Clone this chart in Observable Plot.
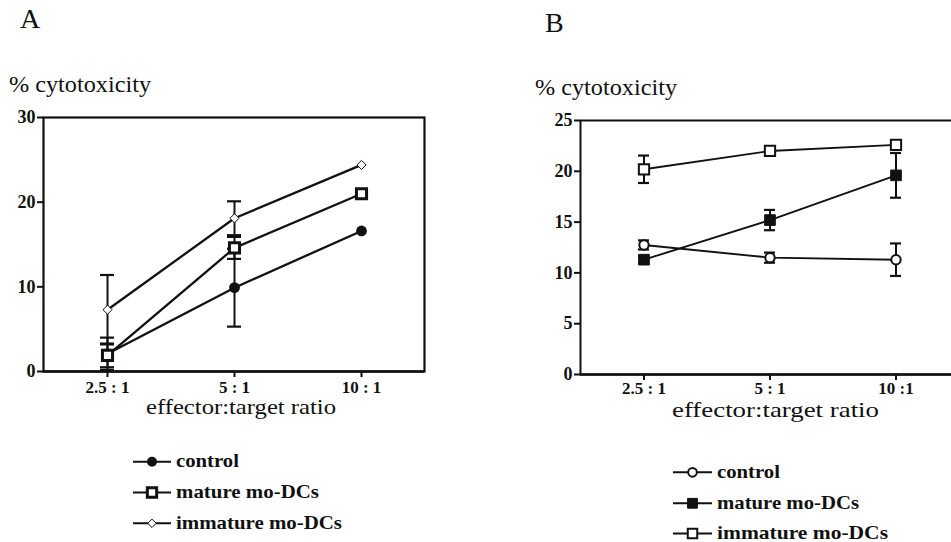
<!DOCTYPE html>
<html><head><meta charset="utf-8">
<script src="https://cdn.jsdelivr.net/npm/d3@7"></script>
<script src="https://cdn.jsdelivr.net/npm/@observablehq/plot@0.6"></script>
<style>
html,body{margin:0;padding:0;background:#fff;}
#wrap{position:relative;width:951px;height:542px;overflow:hidden;background:#fff;}
#wrap > svg, #wrap > figure{position:absolute;margin:0;}
#wrap svg, #wrap svg text{font-family:"Liberation Serif","Times New Roman","DejaVu Serif",serif !important;}
#wrap g[aria-label="x-axis tick label"] text{font-size:17px !important;font-weight:bold !important;fill:#111;}
#wrap g[aria-label="y-axis tick label"] text{font-size:18px !important;font-weight:bold !important;fill:#111;}
</style></head><body><div id="wrap"></div>
<script>
// ---- data ----
const ratiosA = ["2.5 : 1", "5 : 1", "10 : 1"];
const ratiosB = ["2.5 : 1", "5 : 1", "10 :1"];
const seriesNames = ["control", "mature mo-DCs", "immature mo-DCs"];
const yTicksA = [0, 10, 20, 30];
const yTicksB = [0, 5, 10, 15, 20, 25];

const controlA = [2.1, 9.9, 16.6];
const controlErrA = [1.9, 4.6, 0];
const matureA = [1.9, 14.6, 21.0];
const matureErrA = [1.4, 1.3, 0];
const immatureA = [7.3, 18.1, 24.4];
const immatureErrA = [4.1, 2.0, 0];

const controlB = [12.75, 11.5, 11.3];
const controlErrB = [0.45, 0.5, 1.6];
const matureB = [11.3, 15.2, 19.6];
const matureErrB = [0.3, 1.0, 2.2];
const immatureB = [20.2, 22.0, 22.6];
const immatureErrB = [1.35, 0.3, 0.4];

const FONT = "Liberation Serif, Times New Roman, DejaVu Serif, serif";

function buildRows(ratios, vals, errs) {
  const rows = [];
  seriesNames.forEach((s, si) => {
    ratios.forEach((r, i) => rows.push({ratio: r, series: s, value: vals[si][i], err: errs[si][i]}));
  });
  return rows;
}
const rowsA = buildRows(ratiosA, [controlA, matureA, immatureA], [controlErrA, matureErrA, immatureErrA]);
const rowsB = buildRows(ratiosB, [controlB, matureB, immatureB], [controlErrB, matureErrB, immatureErrB]);

const symA = {
  "control": {symbol: "circle", r: 5.4, fill: "#111", stroke: "none", strokeWidth: 0},
  "mature mo-DCs": {symbol: "square", r: 5.7, fill: "white", stroke: "#111", strokeWidth: 3},
  "immature mo-DCs": {symbol: "diamond2", r: 4.1, fill: "white", stroke: "#111", strokeWidth: 1}
};
const symB = {
  "control": {symbol: "circle", r: 4.7, fill: "white", stroke: "#111", strokeWidth: 2},
  "mature mo-DCs": {symbol: "square", r: 6.0, fill: "#111", stroke: "#111", strokeWidth: 1},
  "immature mo-DCs": {symbol: "square", r: 5.8, fill: "white", stroke: "#111", strokeWidth: 2}
};

function panel(rows, ratios, yMax, yTicks, syms, opts) {
  const errRows = rows.filter(d => d.err > 0);
  const dotMarks = seriesNames.map(s => Plot.dot(rows.filter(d => d.series === s), {
    x: "ratio", y: "value", ...syms[s]
  }));
  // band scale: bandwidth = error-bar cap width, band centers one step apart with half-step outer margin
  const step = (opts.width - opts.ml - opts.mr) / ratios.length;
  const pi = 1 - opts.cap / step;
  return Plot.plot({
    width: opts.width, height: opts.height,
    marginLeft: opts.ml, marginRight: opts.mr, marginTop: opts.mt, marginBottom: opts.mb,
    style: {fontFamily: FONT, fontSize: "18px", color: "#111", background: "transparent", overflow: "visible"},
    x: {type: "band", domain: ratios, paddingInner: pi, paddingOuter: pi / 2, align: 0.5},
    y: {domain: [0, yMax]},
    marks: [
      Plot.frame({stroke: "#111", strokeWidth: opts.frameW}),
      Plot.ruleY([0], {stroke: "#111", strokeWidth: 2.6}),
      Plot.axisY({ticks: yTicks, tickSize: 6, tickPadding: 2, fontWeight: "bold", fontSize: 18, strokeWidth: 2, label: null}),
      Plot.axisX({tickSize: 6, tickPadding: opts.xPad, fontWeight: "bold", fontSize: 17, strokeWidth: 2, label: null}),
      Plot.line(rows, {x: "ratio", y: "value", z: "series", stroke: "#111", strokeWidth: opts.lineW}),
      Plot.ruleX(errRows, {x: "ratio", y1: d => d.value - d.err, y2: d => d.value + d.err, stroke: "#111", strokeWidth: 2}),
      Plot.tickY(errRows, {x: "ratio", y: d => d.value + d.err, stroke: "#111", strokeWidth: 2.2}),
      Plot.tickY(errRows, {x: "ratio", y: d => d.value - d.err, stroke: "#111", strokeWidth: 2.2}),
      ...dotMarks
    ]
  });
}

const wrap = document.getElementById("wrap");

const plotA = panel(rowsA, ratiosA, 30, yTicksA, symA,
  {width: 480, height: 430, ml: 43, mr: 56, mt: 117, mb: 59, frameW: 2.2, lineW: 2.3, cap: 14, xPad: 3});
plotA.style.left = "0px"; plotA.style.top = "0px";
wrap.appendChild(plotA);

const plotB = panel(rowsB, ratiosB, 25, yTicksB, symB,
  {width: 500, height: 430, ml: 100, mr: 20.5, mt: 120, mb: 56, frameW: 2, lineW: 1.9, cap: 11, xPad: 1});
plotB.style.left = "480px"; plotB.style.top = "0px";
wrap.appendChild(plotB);

// ---- annotations: panel letters, axis titles, legends ----
const ann = d3.create("svg").attr("width", 951).attr("height", 542)
  .style("left", "0px").style("top", "0px").style("pointer-events", "none")
  .style("font-family", FONT).attr("fill", "#111");

function txt(s, x, y, size, weight, len) {
  const t = ann.append("text").attr("x", x).attr("y", y).style("font-size", size + "px")
    .style("font-weight", weight).text(s);
  if (len) t.attr("textLength", len).attr("lengthAdjust", "spacingAndGlyphs");
  return t;
}
txt("A", 20, 28, 28, "normal");
txt("B", 545, 31.5, 28, "normal");
txt("% cytotoxicity", 9, 92, 23, "normal", 142);
txt("% cytotoxicity", 535, 94.5, 23, "normal", 142);
txt("effector:target ratio", 146, 414, 21, "normal", 190);
txt("effector:target ratio", 672, 417, 21, "normal", 207);

function legend(syms, x0, x1, tx, ys, lens) {
  seriesNames.forEach((s, i) => {
    const cy = ys[i];
    ann.append("line").attr("x1", x0).attr("x2", x1).attr("y1", cy).attr("y2", cy)
      .attr("stroke", "#111").attr("stroke-width", 2);
    const sy = syms[s];
    const symType = {circle: d3.symbolCircle, square: d3.symbolSquare, diamond2: d3.symbolDiamond2}[sy.symbol];
    ann.append("path").attr("transform", `translate(${(x0 + x1) / 2},${cy})`)
      .attr("d", d3.symbol(symType, Math.PI * sy.r * sy.r * 0.85)())
      .attr("fill", sy.fill).attr("stroke", sy.stroke).attr("stroke-width", sy.strokeWidth);
    txt(s, tx, cy + 5.5, 19, "bold", lens[i]);
  });
}
legend(symA, 133, 171, 176, [461.7, 492.5, 523.3], [63, 143, 166]);
legend(symB, 673, 712, 717, [472.3, 503.3, 533.5], [63, 142, 171]);

wrap.appendChild(ann.node());
</script></body></html>
